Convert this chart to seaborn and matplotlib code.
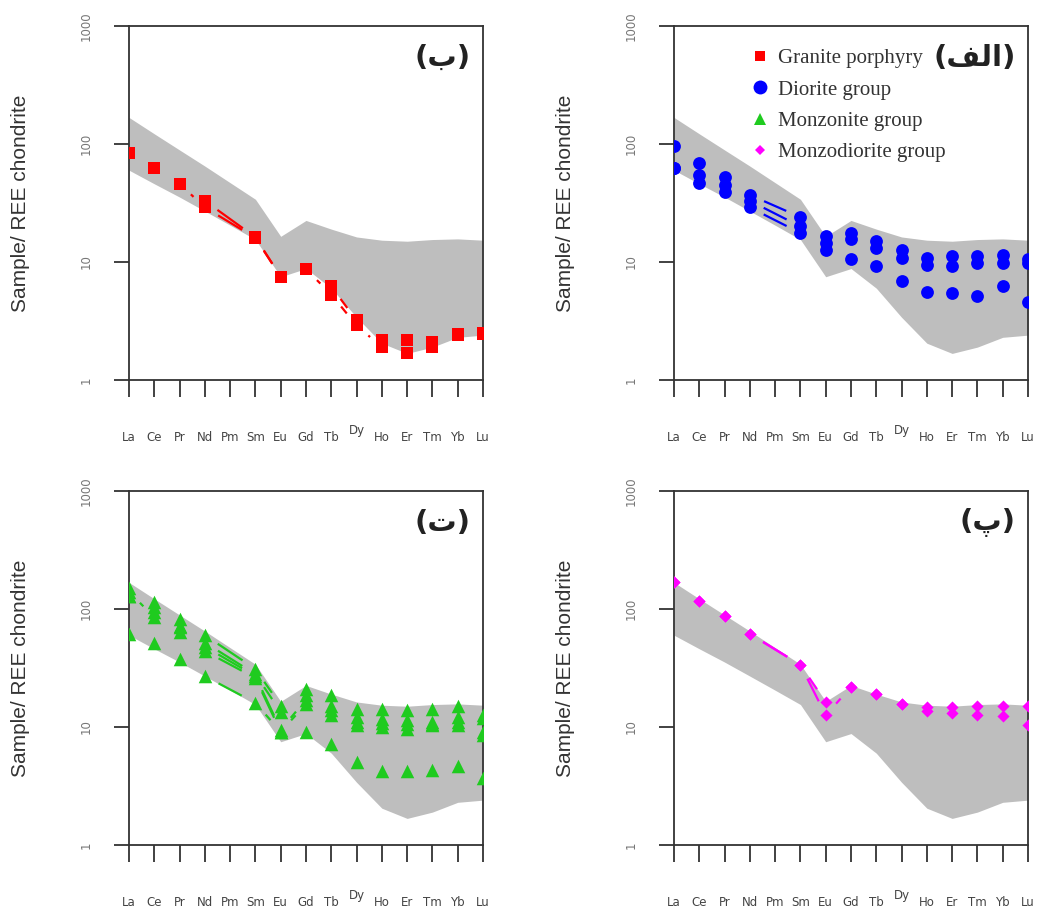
import numpy as np
import pandas as pd
import matplotlib
matplotlib.use("Agg")
import matplotlib.pyplot as plt
import seaborn as sns
from matplotlib.lines import Line2D

# ---------------- data ----------------
elements = ["La", "Ce", "Pr", "Nd", "Pm", "Sm", "Eu", "Gd", "Tb", "Dy",
            "Ho", "Er", "Tm", "Yb", "Lu"]
nan = np.nan

env_upper = [168, 122, 89, 65, 47, 34, 16.5, 22.5, 19, 16.3, 15.3, 15, 15.5, 15.7, 15.3]
env_lower = [60, 46, 35.5, 27, 20.5, 15.5, 7.5, 8.8, 6.0, 3.4, 2.05, 1.68, 1.9, 2.3, 2.4]

granite_1 = [84, 62, 46, 33, nan, 16.2, 7.5, 8.7, 6.2, 3.2, 2.2, 2.2, 2.1, 2.45, 2.5]
granite_2 = [84, 62, 46, 29, nan, 16.0, 7.5, 8.7, 5.3, 2.9, 1.9, 1.7, 1.9, 2.4, 2.45]

diorite_1 = [96, 69, 53, 37, nan, 24, 16.5, 17.6, 15, 12.7, 10.8, 11.2, 11.2, 11.5, 10.5]
diorite_2 = [63, 55, 45, 33, nan, 20, 14.5, 15.7, 13.1, 10.8, 9.5, 9.2, 9.8, 9.8, 9.8]
diorite_3 = [63, 47, 39, 29, nan, 17.6, 12.7, 10.5, 9.2, 6.9, 5.6, 5.5, 5.2, 6.2, 4.6]

monzonite_1 = [152, 114, 82, 60, nan, 31, 15.2, 21, 18.5, 14.3, 14.3, 13.8, 14.3, 15.2, 12.6]
monzonite_2 = [130, 103, 72, 52, nan, 28, 13.4, 18.5, 15.2, 12.2, 11.7, 11.4, 11, 12.2, 12]
monzonite_3 = [130, 94, 64, 44, nan, 26, 9.1, 15.7, 12.6, 10.3, 10, 9.7, 10.3, 10.3, 8.5]
monzonite_4 = [140, 85, 70, 48, nan, 27, 9.5, 17, 14, 11, 10.8, 10.5, 10.5, 11, 9]
monzonite_5 = [61.5, 52, 38, 27, nan, 16, 9.1, 9.1, 7.2, 5.1, 4.2, 4.2, 4.3, 4.7, 3.7]

monzodiorite_1 = [168, 118, 87, 61.5, nan, 33.6, 16.3, 21.8, 19.1, 15.7, 14.8, 14.8, 15.2, 15.2, 15]
monzodiorite_2 = [168, 118, 87, 61.5, nan, 33.6, 12.6, 21.8, 19.1, 15.7, 13.6, 13.2, 12.6, 12.4, 10.3]

group_names = ["Granite porphyry", "Diorite group", "Monzonite group", "Monzodiorite group"]
panel_tags = ["(\u0628)", "(\ufed2\ufedf\ufe8d)", "(\u062a)", "(\u067e)"]

# ---------------- style ----------------
sns.set_theme(style="ticks")
plt.rcParams["font.family"] = ["DejaVu Sans"]

fig = plt.figure(figsize=(10.4, 9.16), dpi=100)

W = 354 / 1040
H = 354 / 916
positions = [
    [129 / 1040, 1 - 380 / 916, W, H],   # top-left  (ب)
    [674 / 1040, 1 - 380 / 916, W, H],   # top-right (الف)
    [129 / 1040, 1 - 845 / 916, W, H],   # bottom-left (ت)
    [674 / 1040, 1 - 845 / 916, W, H],   # bottom-right (پ)
]

panels = [
    dict(samples=[granite_1, granite_2], color="#FF0000", marker="s", s=70),
    dict(samples=[diorite_1, diorite_2, diorite_3], color="#0000FF", marker="o", s=85),
    dict(samples=[monzonite_1, monzonite_2, monzonite_3, monzonite_4, monzonite_5],
         color="#1FCB1F", marker="^", s=95),
    dict(samples=[monzodiorite_1, monzodiorite_2], color="#FF00FF", marker="D", s=38),
]

GAP = 15.5  # pixels left free around each point (R type="b")


def gap_lines(ax, vals, color, gap_px, lw):
    xs = np.arange(len(vals), dtype=float)
    ys = np.asarray(vals, dtype=float)
    m = ~np.isnan(ys)
    xs, ys = xs[m], ys[m]
    pts = ax.transData.transform(np.column_stack([xs, ys]))
    inv = ax.transData.inverted()
    for p0, p1 in zip(pts[:-1], pts[1:]):
        d = p1 - p0
        L = np.hypot(*d)
        if L <= 2 * gap_px + 2:
            continue
        u = d / L
        a = inv.transform(p0 + u * gap_px)
        b = inv.transform(p1 - u * gap_px)
        ax.plot([a[0], b[0]], [a[1], b[1]], color=color, lw=lw,
                solid_capstyle="butt", zorder=2)


xpos = np.arange(len(elements))
axes = []
for i, (pos, pan) in enumerate(zip(positions, panels)):
    ax = fig.add_axes(pos)
    axes.append(ax)
    ax.set_yscale("log")
    ax.set_xlim(0, len(elements) - 1)
    ax.set_ylim(1, 1000)

    # reference envelope
    ax.fill_between(xpos, env_lower, env_upper, color="#BEBEBE", lw=0, zorder=1)

    # connecting lines with gaps around points
    for smp in pan["samples"]:
        gap_lines(ax, smp, pan["color"], GAP, 1.6)

    # points
    rows = []
    for k, smp in enumerate(pan["samples"]):
        for j, v in enumerate(smp):
            if not np.isnan(v):
                rows.append(dict(pos=j, value=v, sample=k))
    df = pd.DataFrame(rows)
    sns.scatterplot(data=df, x="pos", y="value", color=pan["color"],
                    marker=pan["marker"], s=pan["s"], linewidth=0,
                    legend=False, ax=ax, zorder=3)

    # axes cosmetics
    ax.set_xlabel("")
    ax.set_ylabel("Sample/ REE chondrite", fontsize=15, color="#333333",
                  family=["Liberation Sans", "DejaVu Sans"])
    ax.yaxis.set_label_coords(-0.28, 0.5)
    ax.set_xticks(xpos)
    ax.set_xticklabels(elements)
    ax.set_yticks([1, 10, 100, 1000])
    ax.set_yticklabels(["1", "10", "100", "1000"], rotation=90, va="center")
    ax.yaxis.set_minor_locator(matplotlib.ticker.NullLocator())
    ax.tick_params(axis="x", direction="out", length=12.5, width=1.3, pad=24,
                   labelsize=8.5, labelcolor="#444444", color="#333333")
    ax.tick_params(axis="y", direction="out", length=11, width=1.3, pad=15,
                   labelsize=8.5, labelcolor="#777777", color="#333333")
    for sp in ax.spines.values():
        sp.set_visible(True)
        sp.set_linewidth(1.3)
        sp.set_color("#333333")
    # the "Dy" label sits a bit higher in the original
    ax.get_xticklabels()[elements.index("Dy")].set_y(0.02)

    ax.text(0.965, 0.91, panel_tags[i], transform=ax.transAxes, ha="right",
            va="center", fontsize=21, fontweight="bold", color="#222222",
            family=["DejaVu Sans"])

# legend in the (الف) panel
handles = [Line2D([], [], linestyle="none", marker=p["marker"], color=p["color"],
                  markersize=ms, markeredgewidth=0)
           for p, ms in zip(panels, [7, 10, 9, 5])]
leg = axes[1].legend(handles, group_names, loc="upper left",
                     bbox_to_anchor=(0.19, 0.965), frameon=False,
                     prop={"family": "Liberation Serif", "size": 15},
                     handlelength=0.8, handletextpad=0.45, labelspacing=0.56,
                     borderpad=0)
for t in leg.get_texts():
    t.set_color("#333333")

fig.savefig("out.png", dpi=100, facecolor="white")
